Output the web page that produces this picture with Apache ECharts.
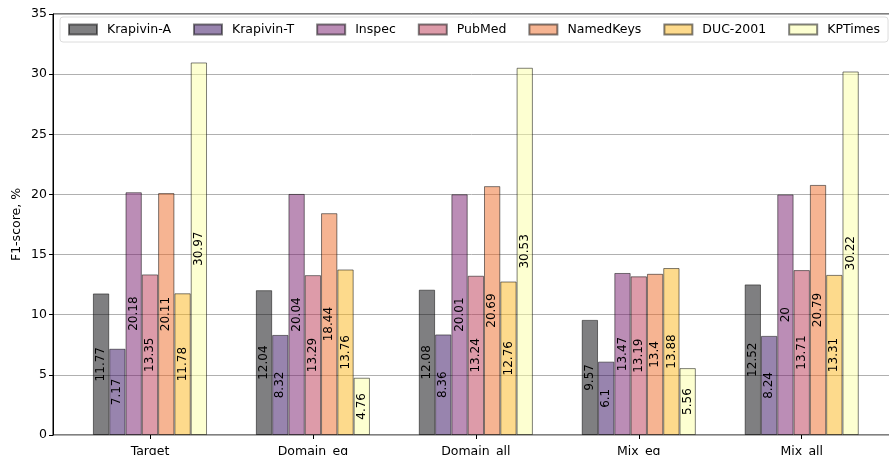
<!DOCTYPE html>
<html>
<head>
<meta charset="utf-8">
<script src="https://cdn.jsdelivr.net/npm/echarts@6/dist/echarts.min.js"></script>
<style>
  html, body { margin: 0; padding: 0; background: #fff; }
  #chart { width: 889px; height: 455px; }
</style>
</head>
<body>
<div id="chart"></div>
<script>
// Setups compared on the x axis
const categories = ['Target', 'Domain_eq', 'Domain_all', 'Mix_eq', 'Mix_all'];

// F1-score (%) per dataset, one value per setup
const krapivinA = [11.77, 12.04, 12.08, 9.57, 12.52];
const krapivinT = [7.17, 8.32, 8.36, 6.1, 8.24];
const inspec    = [20.18, 20.04, 20.01, 13.47, 20];
const pubmed    = [13.35, 13.29, 13.24, 13.19, 13.71];
const namedKeys = [20.11, 18.44, 20.69, 13.4, 20.79];
const duc2001   = [11.78, 13.76, 12.76, 13.88, 13.31];
const kpTimes   = [30.97, 4.76, 30.53, 5.56, 30.22];

const yTicks = [0, 5, 10, 15, 20, 25, 30, 35];

const seriesDefs = [
  { name: 'Krapivin-A', data: krapivinA, color: 'rgba(0,0,4,0.5)' },
  { name: 'Krapivin-T', data: krapivinT, color: 'rgba(50,10,94,0.5)' },
  { name: 'Inspec',     data: inspec,    color: 'rgba(120,28,109,0.5)' },
  { name: 'PubMed',     data: pubmed,    color: 'rgba(188,55,84,0.5)' },
  { name: 'NamedKeys',  data: namedKeys, color: 'rgba(237,105,37,0.5)' },
  { name: 'DUC-2001',   data: duc2001,   color: 'rgba(251,182,26,0.5)' },
  { name: 'KPTimes',    data: kpTimes,   color: 'rgba(252,255,164,0.5)' }
];

const FONT = 'DejaVu Sans';
const chart = echarts.init(document.getElementById('chart'), null, { renderer: 'canvas' });

const yMin = yTicks[0], yMax = yTicks[yTicks.length - 1], yStep = yTicks[1] - yTicks[0];

chart.setOption({
  animation: false,
  backgroundColor: '#fff',
  textStyle: { fontFamily: FONT },
  legend: {
    left: 60,
    top: 17,
    itemWidth: 28,
    itemHeight: 10,
    itemGap: 22,
    padding: [6, 8, 6, 8],
    backgroundColor: 'rgba(255,255,255,0.8)',
    borderColor: '#dcdcdc',
    borderWidth: 1,
    borderRadius: 3,
    icon: 'rect',
    textStyle: { fontFamily: FONT, fontSize: 12.5, color: '#000', padding: [0, 0, 0, 5] },
    data: seriesDefs.map(s => s.name)
  },
  grid: [
    // frame, y axis and horizontal grid lines
    { left: 53, right: -10, top: 14, bottom: 20, outerBoundsMode: 'none', show: true, borderColor: '#000', borderWidth: 1, backgroundColor: 'transparent' },
    // bar groups
    { left: 68.5, right: 5.8, top: 14, bottom: 20, outerBoundsMode: 'none' }
  ],
  xAxis: [
    { gridIndex: 0, type: 'value', min: 0, max: 1, show: false },
    {
      gridIndex: 1,
      type: 'category',
      data: categories,
      axisLine: { show: false },
      axisTick: { show: true, alignWithLabel: true, length: 4, lineStyle: { color: '#000' } },
      axisLabel: { fontFamily: FONT, fontSize: 12.5, color: '#000', margin: 10 }
    }
  ],
  yAxis: [
    {
      gridIndex: 0,
      type: 'value',
      min: yMin, max: yMax, interval: yStep,
      name: 'F1-score, %',
      nameLocation: 'middle',
      nameGap: 30,
      nameMoveOverlap: false,
      nameTextStyle: { fontFamily: FONT, fontSize: 12.5, color: '#000' },
      axisLine: { show: true, lineStyle: { color: '#000' } },
      axisTick: { show: true, length: 4, lineStyle: { color: '#000' } },
      axisLabel: { fontFamily: FONT, fontSize: 12.5, color: '#000', margin: 6 },
      splitLine: { show: true, lineStyle: { color: '#b0b0b0', width: 1 } }
    },
    { gridIndex: 1, type: 'value', min: yMin, max: yMax, show: false }
  ],
  series: seriesDefs.map(s => ({
    name: s.name,
    type: 'bar',
    xAxisIndex: 1,
    yAxisIndex: 1,
    data: s.data,
    barWidth: 16.3,
    barGap: '0%',
    itemStyle: { color: s.color, borderColor: 'rgba(0,0,0,0.5)', borderWidth: 1 },
    label: {
      show: true,
      position: 'inside',
      rotate: 90,
      color: '#000',
      fontFamily: FONT,
      fontSize: 12,
      formatter: p => String(p.value)
    }
  }))
});
</script>
</body>
</html>
